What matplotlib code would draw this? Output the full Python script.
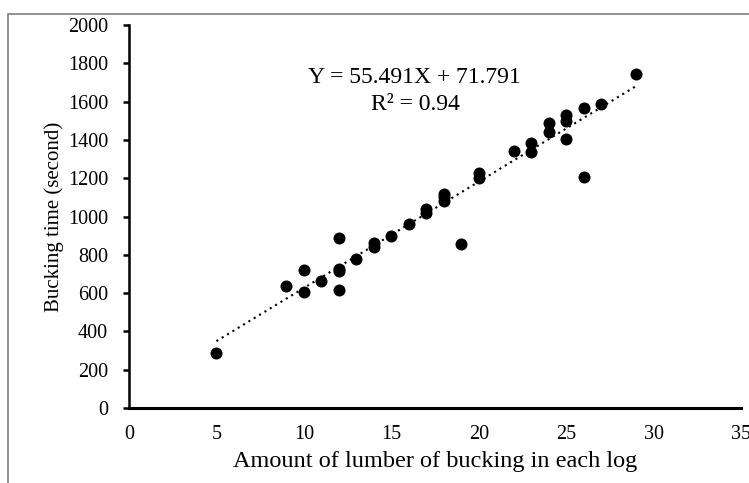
import matplotlib
matplotlib.use("Agg")
import matplotlib.pyplot as plt
from matplotlib.patches import Rectangle
import numpy as np

lumber = [5, 9, 10, 10, 11, 12, 12, 12, 12, 13, 14, 14, 15, 16, 17, 17, 18, 18, 18,
          19, 20, 20, 22, 23, 23, 24, 24, 25, 25, 25, 26, 26, 27, 29]
time_s = [285, 635, 720, 605, 665, 890, 725, 715, 615, 780, 860, 840, 900, 960, 1040,
          1020, 1120, 1100, 1080, 855, 1225, 1200, 1340, 1385, 1335, 1490, 1440, 1530,
          1500, 1405, 1565, 1205, 1585, 1745]
slope, intercept = 55.491, 71.791
fit_x = [5, 29]
xticks = [0, 5, 10, 15, 20, 25, 30, 35]
yticks = [0, 200, 400, 600, 800, 1000, 1200, 1400, 1600, 1800, 2000]

plt.rcParams['font.family'] = ['Liberation Serif', 'DejaVu Serif']

fig = plt.figure(figsize=(7.49, 4.83), dpi=100)
fig.patches.append(Rectangle((8/749, -0.1), 1.2, 1 - 14/483 + 0.1, transform=fig.transFigure,
                             fill=False, edgecolor='#7f7f7f', linewidth=1.2))
ax = fig.add_axes([129/749, (483-408)/483, 612/749, 383/483])

ax.scatter(lumber, time_s, s=75, color='black', zorder=3, linewidths=0)
fx = np.array(fit_x, dtype=float)
ax.plot(fx, slope*fx + intercept, color='black', linestyle=(0, (1, 2)), linewidth=1.5, zorder=2)

ax.set_xlim(0, 35)
ax.set_ylim(0, 2000)
ax.set_xticks(xticks)
ax.set_yticks(yticks)
for s in ['top', 'right']:
    ax.spines[s].set_visible(False)
ax.spines['left'].set_linewidth(1.8)
ax.spines['bottom'].set_linewidth(2.2)
ax.tick_params(axis='x', length=0, pad=12, labelsize=14.5)
ax.tick_params(axis='y', direction='out', length=4, width=1.8, pad=11, labelsize=14.5)

ax.set_xlabel('Amount of lumber of bucking in each log', fontsize=17.5, labelpad=5)
ax.set_ylabel('Bucking time (second)', fontsize=15, labelpad=3)

ax.text(16.3, 1728, 'Y = 55.491X + 71.791', ha='center', va='center', fontsize=17)
ax.text(16.4, 1587, 'R² = 0.94', ha='center', va='center', fontsize=17)

fig.savefig('out.png', dpi=100)
